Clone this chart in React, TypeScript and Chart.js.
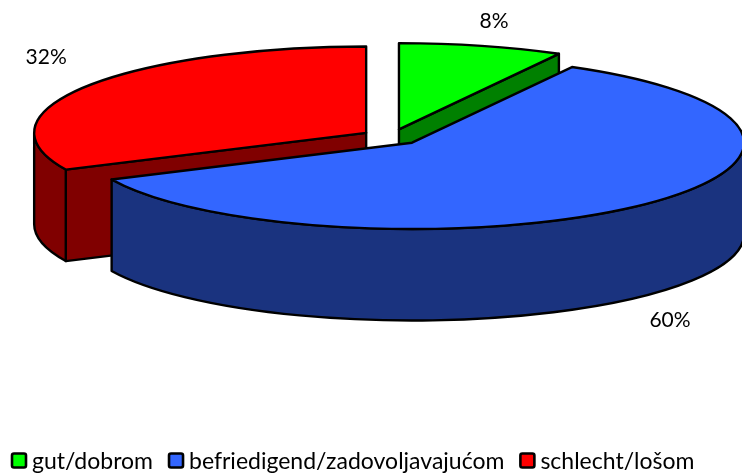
import React, { useEffect, useRef } from "react";
import { Chart, registerables } from "chart.js";

Chart.register(...registerables);

const categories = ["gut/dobrom", "befriedigend/zadovoljavajućom", "schlecht/lošom"];
const shares = [8, 60, 32];
const topColors = ["#00FF00", "#3366FF", "#FF0000"];
const sideColors = ["#008000", "#1A337F", "#800000"];

const WIDTH = 742;
const HEIGHT = 473;
const PIE_X = 391.5;
const PIE_Y = 137;
const TILT = 0.26;
const RADIUS = 332;
const EXPLODE = 30;
const DEPTH = 91.5;
const LABEL_FONT = "Lato";
const LEGEND_DROP = 10;
const LEGEND_LEFT = -4;
const EDGE = 2.4;
const LABEL_SHIFT = [
  [95, -108],
  [258, 178],
  [-320, -76],
];

const base = { x: 0, y: 0 };

const apexOf = (el: any) => ({
  x: PIE_X + (el.x - base.x),
  y: PIE_Y + TILT * (el.y - base.y),
});

const pie3d = {
  id: "pie3d",
  afterDatasetsUpdate(chart: any) {
    const arcs: any[] = chart.getDatasetMeta(0).data;
    base.x = (chart.chartArea.left + chart.chartArea.right) / 2;
    base.y = (chart.chartArea.top + chart.chartArea.bottom) / 2;
    arcs.forEach((el) => {
      const mid = (el.startAngle + el.endAngle) / 2;
      el.x = base.x + Math.cos(mid) * EXPLODE;
      el.y = base.y + Math.sin(mid) * EXPLODE;
    });
  },
  afterLayout(chart: any) {
    const legend = chart.legend;
    legend.top += LEGEND_DROP;
    legend.bottom += LEGEND_DROP;
    legend.left += LEGEND_LEFT;
    legend.right += LEGEND_LEFT;
  },
  beforeDatasetsDraw(chart: any) {
    const ctx = chart.ctx;
    const arcs: any[] = chart.getDatasetMeta(0).data;
    const order = arcs.map((_, i) => i).sort((a, b) => apexOf(arcs[a]).y - apexOf(arcs[b]).y);
    ctx.save();
    ctx.lineWidth = EDGE;
    ctx.lineJoin = "round";
    ctx.strokeStyle = "#000";
    const paint = (color: string) => {
      ctx.closePath();
      ctx.fillStyle = color;
      ctx.fill();
      ctx.stroke();
    };
    for (const i of order) {
      const el = arcs[i];
      const a = apexOf(el);
      const r = el.outerRadius;
      const cuts: number[] = [];
      if (Math.cos(el.startAngle) < -1e-6) cuts.push(el.startAngle);
      if (Math.cos(el.endAngle) > 1e-6) cuts.push(el.endAngle);
      for (const c of cuts) {
        const ex = a.x + r * Math.cos(c);
        const ey = a.y + TILT * r * Math.sin(c);
        ctx.beginPath();
        ctx.moveTo(a.x, a.y);
        ctx.lineTo(ex, ey);
        ctx.lineTo(ex, ey + DEPTH);
        ctx.lineTo(a.x, a.y + DEPTH);
        paint(sideColors[i]);
      }
      const from = Math.max(el.startAngle, 0);
      const to = Math.min(el.endAngle, Math.PI);
      if (to > from) {
        ctx.beginPath();
        ctx.ellipse(a.x, a.y, r, TILT * r, 0, from, to);
        ctx.ellipse(a.x, a.y + DEPTH, r, TILT * r, 0, to, from, true);
        paint(sideColors[i]);
      }
    }
    ctx.restore();
    ctx.save();
    ctx.translate(PIE_X, PIE_Y);
    ctx.scale(1, TILT);
    ctx.translate(-base.x, -base.y);
  },
  afterDatasetsDraw(chart: any) {
    const ctx = chart.ctx;
    ctx.restore();
    const arcs: any[] = chart.getDatasetMeta(0).data;
    ctx.save();
    ctx.lineWidth = EDGE;
    ctx.lineJoin = "round";
    ctx.strokeStyle = "#000";
    arcs.forEach((el, i) => {
      const a = apexOf(el);
      ctx.beginPath();
      ctx.moveTo(a.x, a.y);
      ctx.ellipse(a.x, a.y, el.outerRadius, TILT * el.outerRadius, 0, el.startAngle, el.endAngle);
      ctx.closePath();
      ctx.stroke();
      ctx.fillStyle = "#000";
      ctx.font = `21px ${LABEL_FONT}`;
      ctx.textAlign = "center";
      ctx.textBaseline = "middle";
      ctx.fillText(`${shares[i]}%`, a.x + LABEL_SHIFT[i][0], a.y + LABEL_SHIFT[i][1]);
    });
    ctx.lineWidth = 2.6;
    chart.legend.legendHitBoxes.forEach((h: any, i: number) => {
      const y = h.top + h.height / 2 - 8;
      ctx.beginPath();
      ctx.roundRect(h.left + 1, y, 14, 14, 2);
      ctx.fillStyle = topColors[i];
      ctx.fill();
      ctx.stroke();
    });
    ctx.restore();
  },
};

export default function App() {
  const ref = useRef<HTMLCanvasElement>(null);
  useEffect(() => {
    const chart = new Chart(ref.current as HTMLCanvasElement, {
      type: "pie",
      data: {
        labels: categories,
        datasets: [
          {
            data: shares,
            backgroundColor: topColors,
            borderWidth: 0,
            clip: false,
          } as any,
        ],
      },
      options: {
        responsive: false,
        animation: false,
        radius: RADIUS,
        plugins: {
          tooltip: { enabled: false },
          legend: {
            position: "bottom",
            align: "start",
            labels: {
              font: { family: LABEL_FONT, size: 23 },
              color: "#000",
              padding: 15,
              boxWidth: 9.5,
              boxHeight: 14,
              generateLabels: () =>
                categories.map((text, i) => ({
                  text,
                  fillStyle: "rgba(0,0,0,0)",
                  strokeStyle: "rgba(0,0,0,0)",
                  lineWidth: 0,
                  index: i,
                })),
            },
          },
        },
      } as any,
      plugins: [pie3d],
    });
    return () => chart.destroy();
  }, []);
  return (
    <div style={{ position: "absolute", left: 0, top: 0, width: WIDTH, height: HEIGHT, background: "#fff", overflow: "hidden" }}>
      <canvas ref={ref} width={WIDTH} height={HEIGHT} style={{ display: "block" }} />
    </div>
  );
}
